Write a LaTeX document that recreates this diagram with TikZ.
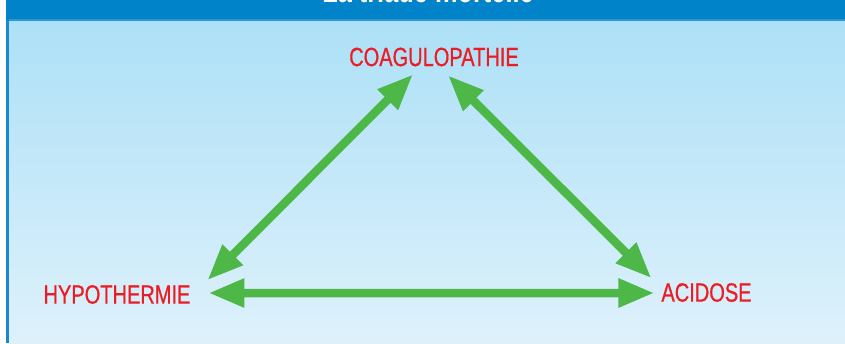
\documentclass[tikz,border=0pt]{standalone}
\usepackage{fontspec}
\setmainfont{Liberation Sans}
\newfontfamily\condfont[FakeStretch=0.76, FakeBold=0.6]{Liberation Sans}
\newfontfamily\condheadfont[FakeStretch=0.76]{Liberation Sans}
\usetikzlibrary{arrows.meta, positioning}

\definecolor{bandblue}{HTML}{0083C9}
\definecolor{edgeblue}{HTML}{1A89CB}
\definecolor{ruleblue}{HTML}{2E96D3}
\definecolor{skytop}{HTML}{ADE0F7}
\definecolor{skybot}{HTML}{DEF1FB}
\definecolor{triared}{HTML}{EC1C24}
\definecolor{triagreen}{HTML}{4DB848}

\begin{document}
\begin{tikzpicture}[
    x=0.02cm, y=-0.02cm,
    term/.style={
        inner sep=0pt, outer sep=0pt, text=triared,
        font=\condfont\fontsize{15}{18}\selectfont
    },
    banner/.style={
        inner sep=0pt, anchor=base, text=white,
        font=\condheadfont\bfseries\fontsize{19}{22}\selectfont
    },
    arr/.style={
        {Triangle[length=0.72cm,width=0.54cm]}-{Triangle[length=0.72cm,width=0.54cm]},
        line width=0.17cm, draw=triagreen
    }
]
    \useasboundingbox (0,0) rectangle (845,343);

    % Frame: background, title band, left edge
    \fill[white] (0,0) rectangle (845,343);
    \shade[top color=skytop, bottom color=skybot] (9,20) rectangle (845,343);
    \fill[bandblue] (6,0) rectangle (845,20);
    \draw[ruleblue, line width=0.03cm] (9,20) -- (845,20);
    \fill[edgeblue] (6,20) rectangle (9,343);

    % Title, cut off by the top edge
    \node[banner] (heading) at (428,2.5) {La triade mortelle};

    % The three terms
    \node[term] (coag) at (434,57)    {COAGULOPATHIE};
    \node[term] (hypo) at (117,294.5) {HYPOTHERMIE};
    \node[term] (acid) at (706.5,292.5) {ACIDOSE};

    % Double arrows between them
    \draw[arr] ([shift={(17,-5)}]hypo.north east) -- ([shift={(-21,8)}]coag.south);
    \draw[arr] ([shift={(14,9)}]coag.south) -- ([shift={(-10,-5)}]acid.north west);
    \draw[arr] ([shift={(18,-1.5)}]hypo.east) -- ([shift={(-7,0.5)}]acid.west);
\end{tikzpicture}
\end{document}
